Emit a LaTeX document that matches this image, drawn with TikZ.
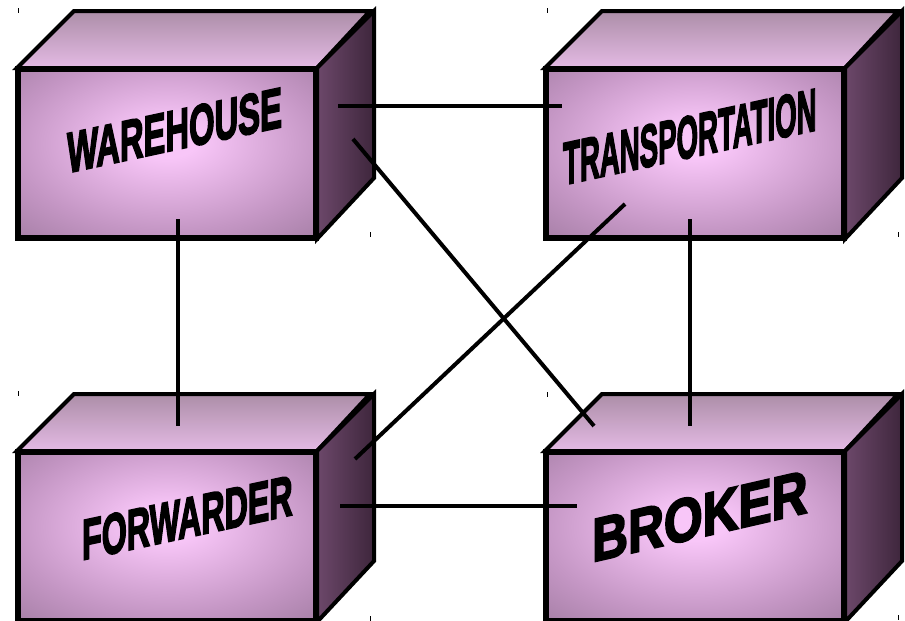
\documentclass[tikz,border=0pt]{standalone}
\usepackage{fontspec}
\setmainfont{Liberation Sans}
\newfontfamily\boxfont[FakeBold=3.5]{Liberation Sans Bold}
\usetikzlibrary{calc}
\definecolor{fcIn}{RGB}{248,198,248}
\definecolor{fcMid}{RGB}{196,150,196}
\definecolor{fcOut}{RGB}{126,96,126}
\definecolor{tpBack}{RGB}{172,142,168}
\definecolor{tpFront}{RGB}{228,186,228}
\definecolor{rtLeft}{RGB}{108,72,106}
\definecolor{rtRight}{RGB}{62,38,60}
\pgfdeclareradialshading{frontshade}{\pgfpoint{0bp}{4bp}}{color(0bp)=(fcIn); color(5bp)=(fcIn); color(26bp)=(fcMid); color(54bp)=(fcOut); color(80bp)=(fcOut)}
\tikzset{
  front/.style={draw=black, line width=4pt, minimum width=296pt, minimum height=167pt,
    inner sep=0pt, shading=frontshade, anchor=north west},
  topface/.style={draw=black, line width=4pt, top color=tpBack, bottom color=tpFront},
  sideface/.style={draw=black, line width=4pt, left color=rtLeft, right color=rtRight},
  label/.style={anchor=base west, inner sep=0pt, font=\boxfont},
  conn/.style={draw=black, line width=4pt},
  tick/.style={draw=black, line width=1pt}
}
\newcommand{\boxfaces}[1]{%
  \path[topface] (#1.north west) -- ++(57,-57) -- ++(296,0) -- (#1.north east) -- cycle;
  \path[sideface] (#1.north east) -- ++(57,-57) -- ++(0,167) -- (#1.south east) -- cycle;
  \draw[line width=4pt] (#1.north west) rectangle (#1.south east);
}
\begin{document}
\begin{tikzpicture}[x=1pt,y=-1pt]
\useasboundingbox (0,0) rectangle (905,621);
% boxes
\node[front] (wh) at (17,68) {};
\boxfaces{wh}
\node[front] (tr) at (545,68) {};
\boxfaces{tr}
\node[front] (fw) at (17,451) {};
\boxfaces{fw}
\node[front] (br) at (545,451) {};
\boxfaces{br}
% labels
\node[label, yslant=0.215, xscale=0.575] (whT) at (67,173) {\fontsize{57}{57}\selectfont WAREHOUSE};
\node[label, yslant=0.217, xscale=0.46] (trT) at (563,185) {\fontsize{60}{60}\selectfont TRANSPORTATION};
\node[label, yslant=0.215, xscale=0.565] (fwT) at (82,560) {\fontsize{57}{57}\selectfont FORWARDER};
\node[label, yslant=0.23, xscale=0.815] (brT) at (592,562) {\fontsize{61}{61}\selectfont BROKER};
% connector end points
\coordinate (whA) at (338,106);
\coordinate (trA) at (562,106);
\coordinate (whB) at (353,139);
\coordinate (brB) at (594,426);
\coordinate (whC) at (178,219);
\coordinate (fwC) at (178,426);
\coordinate (trD) at (690,219);
\coordinate (brD) at (690,426);
\coordinate (trE) at (625,204);
\coordinate (fwE) at (355,459);
\coordinate (fwF) at (340,506);
\coordinate (brF) at (577,506);
\draw[conn] (whA) -- (trA);
\draw[conn] (whB) -- (brB);
\draw[conn] (whC) -- (fwC);
\draw[conn] (trD) -- (brD);
\draw[conn] (trE) -- (fwE);
\draw[conn] (fwF) -- (brF);
% small handle ticks
\draw[tick] (18,8) -- ++(0,5);
\draw[tick] (370,232) -- ++(0,5);
\draw[tick] (547,8) -- ++(0,5);
\draw[tick] (898,232) -- ++(0,5);
\draw[tick] (18,391) -- ++(0,5);
\draw[tick] (370,616) -- ++(0,5);
\draw[tick] (547,392) -- ++(0,5);
\draw[tick] (898,615) -- ++(0,5);
\end{tikzpicture}
\end{document}
